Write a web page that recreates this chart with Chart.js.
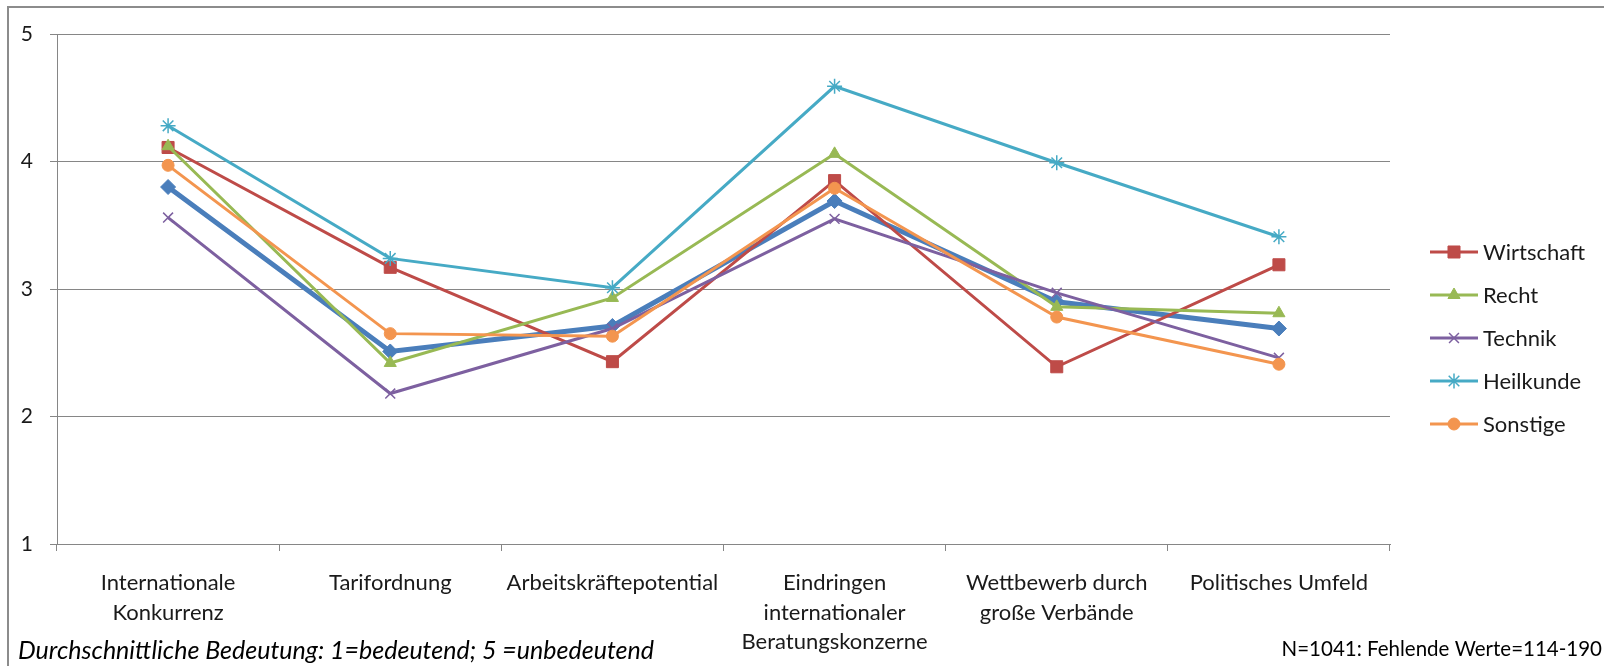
<!DOCTYPE html>
<html lang="de">
<head>
<meta charset="utf-8">
<title>Durchschnittliche Bedeutung von Einflussfaktoren</title>
<script src="https://cdn.jsdelivr.net/npm/chart.js@4/dist/chart.umd.min.js"></script>
<style>
  html, body { margin: 0; padding: 0; background: #fff; }
  #wrap { position: relative; width: 1604px; height: 666px; }
  canvas { display: block; }
</style>
</head>
<body>
<div id="wrap"><canvas id="chart" width="1604" height="666"></canvas></div>
<script>
// Kategorien (Einflussfaktoren)
const categories = [
  ['Internationale', 'Konkurrenz'],
  'Tarifordnung',
  'Arbeitskräftepotential',
  ['Eindringen', 'internationaler', 'Beratungskonzerne'],
  ['Wettbewerb durch', 'große Verbände'],
  'Politisches Umfeld'
];

// Mittelwerte je Fachrichtung (1 = bedeutend, 5 = unbedeutend)
const insgesamt  = [3.80, 2.51, 2.71, 3.69, 2.90, 2.69];
const wirtschaft = [4.11, 3.17, 2.43, 3.85, 2.39, 3.19];
const recht      = [4.12, 2.42, 2.93, 4.06, 2.86, 2.81];
const technik    = [3.56, 2.18, 2.69, 3.55, 2.97, 2.46];
const heilkunde  = [4.28, 3.24, 3.01, 4.59, 3.99, 3.41];
const sonstige   = [3.97, 2.65, 2.63, 3.79, 2.78, 2.41];

const yTicks = [1, 2, 3, 4, 5];

const noteLeft  = 'Durchschnittliche Bedeutung: 1=bedeutend; 5 =unbedeutend';
const noteRight = 'N=1041: Fehlende Werte=114-190';

const FONT = 'Lato, "Open Sans", sans-serif';

function series(label, data, color, style, radius, width, inLegend) {
  const crossLike = style === 'crossRot' || style === 'star';
  return {
    label, data,
    borderColor: color,
    backgroundColor: color,
    borderWidth: width,
    pointStyle: style,
    pointRadius: radius,
    pointHoverRadius: radius,
    pointBackgroundColor: color,
    pointBorderColor: color,
    pointBorderWidth: crossLike ? 1.5 : 1,
    tension: 0,
    fill: false,
    inLegend
  };
}

const datasets = [
  series('Insgesamt',  insgesamt,  '#4a7ebb', 'rectRot',  7.5, 5, false),
  series('Wirtschaft', wirtschaft, '#be4b48', 'rect',     8.5, 3, true),
  series('Recht',      recht,      '#98b954', 'triangle', 7,   3, true),
  series('Technik',    technik,    '#7d60a0', 'crossRot', 7,   3, true),
  series('Heilkunde',  heilkunde,  '#46aac5', 'star',     7.5, 3, true),
  series('Sonstige',   sonstige,   '#f3954f', 'circle',   6,   3, true)
];
// later series are painted above earlier ones
datasets.forEach((d, i) => { d.order = datasets.length - i; });

// frame, side legend and footnotes
const decorations = {
  id: 'decorations',
  afterDraw(chart) {
    const ctx = chart.ctx;
    ctx.save();

    // outer frame (top and left edges)
    ctx.strokeStyle = '#8c8c8c';
    ctx.lineWidth = 2;
    ctx.beginPath();
    ctx.moveTo(8, 666);
    ctx.lineTo(8, 7);
    ctx.lineTo(1604, 7);
    ctx.stroke();

    // legend on the right
    const shown = chart.data.datasets.filter(d => d.inLegend);
    const x0 = 1430, x1 = 1478, tx = 1483;
    let y = 252;
    const step = 43;
    ctx.font = '22px ' + FONT;
    ctx.textBaseline = 'middle';
    ctx.textAlign = 'left';
    shown.forEach(d => {
      ctx.strokeStyle = d.borderColor;
      ctx.lineWidth = d.borderWidth;
      ctx.beginPath();
      ctx.moveTo(x0, y);
      ctx.lineTo(x1, y);
      ctx.stroke();
      ctx.fillStyle = d.pointBackgroundColor;
      ctx.strokeStyle = d.pointBorderColor;
      ctx.lineWidth = d.pointBorderWidth;
      Chart.helpers.drawPoint(ctx, { pointStyle: d.pointStyle, radius: d.pointRadius, rotation: 0, borderWidth: d.pointBorderWidth }, (x0 + x1) / 2, y);
      ctx.fillStyle = '#1a1a1a';
      ctx.fillText(d.label, tx, y + 1);
      y += step;
    });

    // footnotes
    ctx.fillStyle = '#000';
    ctx.font = 'italic 25px ' + FONT;
    ctx.textAlign = 'left';
    ctx.fillText(noteLeft, 18, 651);
    ctx.font = '20.5px ' + FONT;
    ctx.textAlign = 'right';
    ctx.fillText(noteRight, 1602, 649);
    ctx.restore();
  }
};

new Chart(document.getElementById('chart'), {
  type: 'line',
  data: { labels: categories, datasets },
  plugins: [decorations],
  options: {
    responsive: false,
    animation: false,
    events: [],
    layout: { padding: { top: 34, right: 214, left: 0, bottom: 0 } },
    plugins: {
      legend: { display: false },
      tooltip: { enabled: false },
      title: { display: false }
    },
    scales: {
      x: {
        type: 'category',
        offset: true,
        grid: {
          offset: true,
          drawOnChartArea: false,
          drawTicks: true,
          tickLength: 7,
          color: '#868686'
        },
        border: { display: true, color: '#868686', width: 1 },
        ticks: {
          autoSkip: false,
          maxRotation: 0,
          minRotation: 0,
          padding: 17,
          color: '#1a1a1a',
          font: { family: FONT, size: 22, lineHeight: 1.35 }
        },
        afterFit(scale) { scale.height = 122; }
      },
      y: {
        min: 1,
        max: 5,
        afterBuildTicks(scale) { scale.ticks = yTicks.map(v => ({ value: v })); },
        grid: {
          color: '#868686',
          lineWidth: 1,
          drawTicks: true,
          tickLength: 7
        },
        border: { display: true, color: '#868686', width: 1 },
        ticks: {
          padding: 17,
          color: '#1a1a1a',
          font: { family: FONT, size: 21 }
        },
        afterFit(scale) { scale.width = 57; }
      }
    }
  }
});
</script>
</body>
</html>
